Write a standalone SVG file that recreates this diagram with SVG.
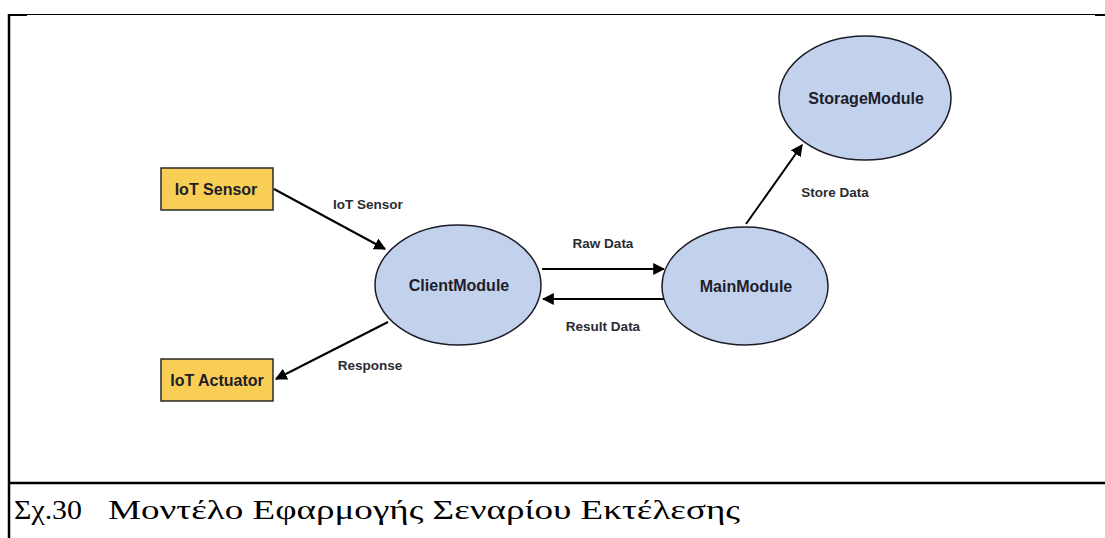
<svg xmlns="http://www.w3.org/2000/svg" width="1105" height="538" viewBox="0 0 1105 538">
<style>
.frame{stroke:#000;fill:none}
.box{fill:#F8CE54;stroke:#2a2a2a;stroke-width:1.5}
.ell{fill:#C3D2EC;stroke:#1c1c28;stroke-width:1.5}
.nl{font-family:"Liberation Sans",Arial,sans-serif;font-weight:bold;font-size:16px;fill:#1d1d2b;text-anchor:middle}
.el{font-family:"Liberation Sans",Arial,sans-serif;font-weight:bold;font-size:13.5px;fill:#2b2b33;text-anchor:middle}
.edge{stroke:#000;stroke-width:2;fill:none;marker-end:url(#ah)}
.cap{font-family:"Liberation Serif","Times New Roman",serif;font-size:28px;fill:#000}
</style>
<defs>
<marker id="ah" viewBox="0 0 10 10" refX="9" refY="5" markerWidth="6" markerHeight="6" orient="auto" markerUnits="strokeWidth">
<path d="M0,0 L10,5 L0,10 z" fill="#000"/>
</marker>
</defs>
<rect width="1105" height="538" fill="#fff"/>
<g id="frame">
<line class="frame" x1="8" y1="14.5" x2="1105" y2="14.5" stroke-width="1"/>
<line class="frame" x1="8" y1="15" x2="27" y2="15" stroke-width="2"/>
<line class="frame" x1="1095" y1="15" x2="1105" y2="15" stroke-width="2"/>
<line class="frame" x1="9" y1="14" x2="9" y2="538" stroke-width="2.5"/>
<line class="frame" x1="8" y1="483" x2="1105" y2="483" stroke-width="2.5"/>
</g>
<g id="edges">
<line class="edge" x1="274" y1="189" x2="385" y2="249"/>
<line class="edge" x1="542" y1="269" x2="664" y2="269"/>
<line class="edge" x1="664" y1="299" x2="543" y2="299"/>
<line class="edge" x1="388" y1="322" x2="276" y2="379"/>
<line class="edge" x1="746" y1="224" x2="802" y2="145"/>
<text class="el" x="368" y="209">IoT Sensor</text>
<text class="el" x="603" y="248">Raw Data</text>
<text class="el" x="603" y="331">Result Data</text>
<text class="el" x="370" y="370">Response</text>
<text class="el" x="835" y="197">Store Data</text>
</g>
<g id="iot-sensor">
<rect class="box" x="161" y="168" width="112" height="42"/>
<text class="nl" x="216" y="195">IoT Sensor</text>
</g>
<g id="iot-actuator">
<rect class="box" x="161" y="359" width="112" height="42"/>
<text class="nl" x="217" y="386">IoT Actuator</text>
</g>
<g id="client-module">
<ellipse class="ell" cx="458" cy="285" rx="83" ry="60"/>
<text class="nl" x="459" y="291">ClientModule</text>
</g>
<g id="main-module">
<ellipse class="ell" cx="745" cy="286" rx="83" ry="59"/>
<text class="nl" x="746" y="292">MainModule</text>
</g>
<g id="storage-module">
<ellipse class="ell" cx="865" cy="98" rx="86" ry="62"/>
<text class="nl" x="866" y="104">StorageModule</text>
</g>
<text class="cap" x="14" y="519" textLength="68" lengthAdjust="spacingAndGlyphs">Σχ.30</text>
<text class="cap" x="108" y="519" textLength="632" lengthAdjust="spacingAndGlyphs">Μοντέλο Εφαρμογής Σεναρίου Εκτέλεσης</text>
</svg>
